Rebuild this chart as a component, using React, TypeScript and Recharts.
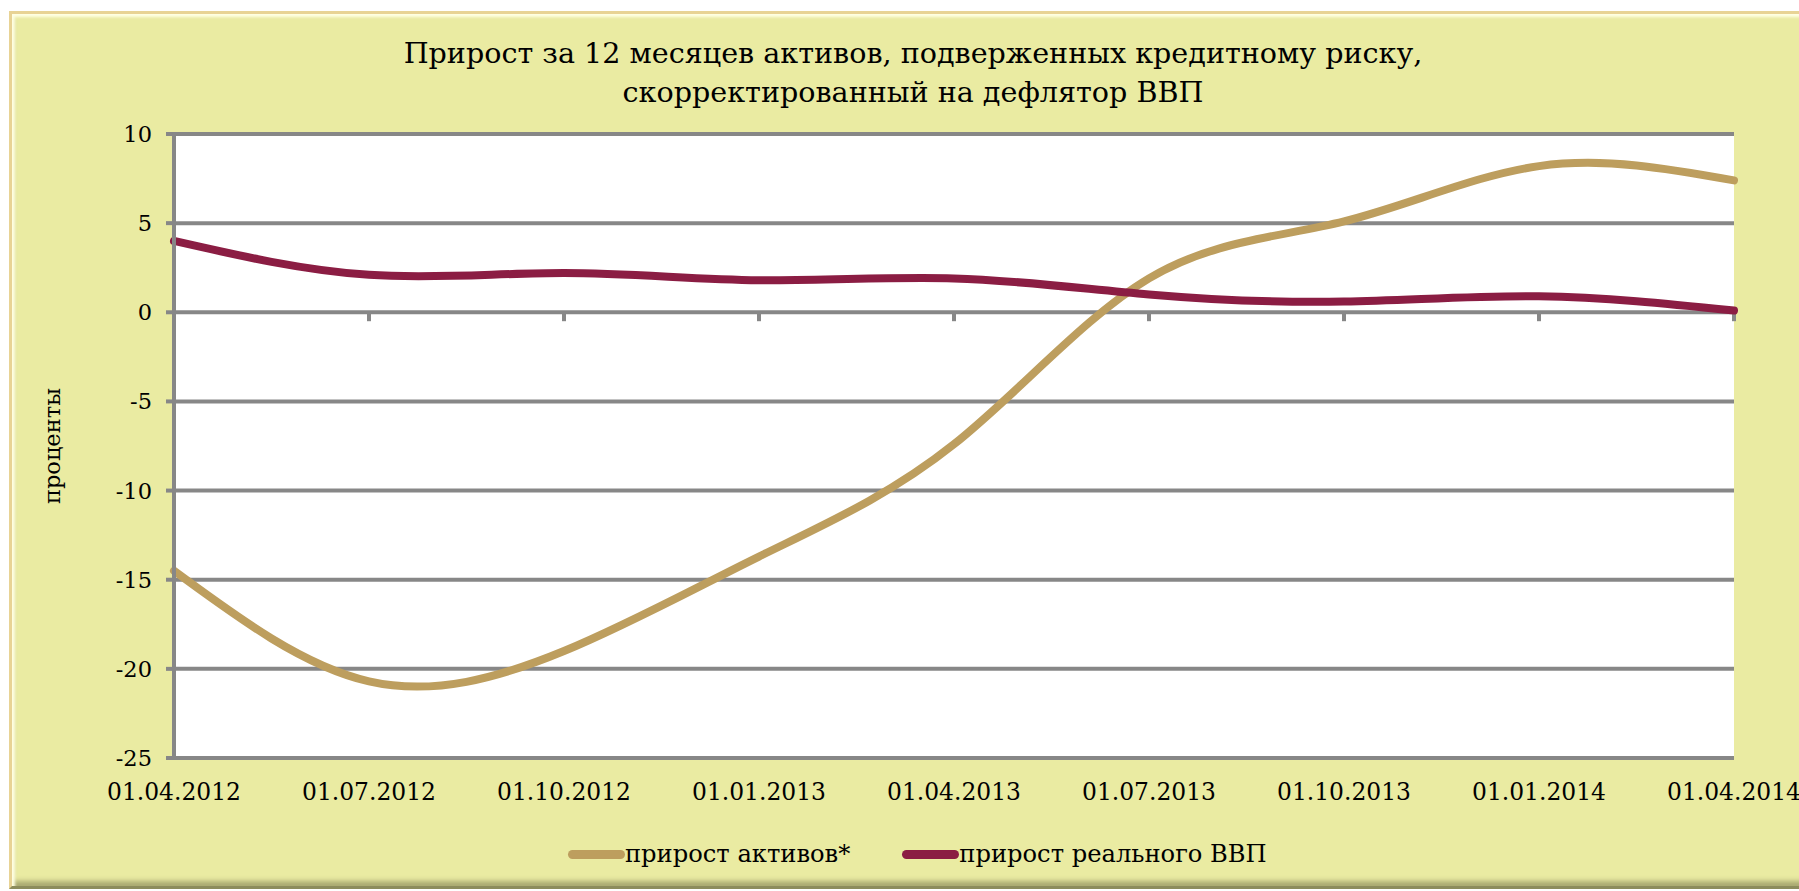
import { LineChart, Line, XAxis, YAxis, CartesianGrid, ReferenceLine } from 'recharts';

// quarterly points
const dates = [
  '01.04.2012', '01.07.2012', '01.10.2012', '01.01.2013', '01.04.2013',
  '01.07.2013', '01.10.2013', '01.01.2014', '01.04.2014',
];
const assetsGrowth = [-14.5, -20.7, -19.0, -13.7, -7.4, 1.9, 5.1, 8.2, 7.4];
const realGdpGrowth = [4.0, 2.1, 2.2, 1.8, 1.9, 1.0, 0.6, 0.9, 0.1];
const yTicks = [-25, -20, -15, -10, -5, 0, 5, 10];

const seriesNames = ['прирост активов*', 'прирост реального ВВП'];
const seriesColors = ['#BD9E5E', '#8B1D43'];

const titleLines = [
  'Прирост за 12 месяцев активов, подверженных кредитному риску,',
  'скорректированный на дефлятор ВВП',
];

const FONT = '"DejaVu Serif", serif';
const GRID = '#878787';

export default function App() {
  const data = dates.map((d, i) => ({
    date: d,
    assets: assetsGrowth[i],
    gdp: realGdpGrowth[i],
  }));

  return (
    <div style={{ position: 'absolute', left: 0, top: 0, width: 1799, height: 891, overflow: 'hidden' }}>
      <style>{'html,body{margin:0;overflow:hidden}'}</style>

      {/* bevelled frame */}
      <div
        style={{
          position: 'absolute',
          left: 9,
          top: 11,
          width: 1830,
          height: 872,
          background: '#EAEBA2',
          borderTop: '3px solid #E8D395',
          borderLeft: '3px solid #E8D395',
          borderBottom: '3px solid #8C8C5C',
          boxShadow: 'inset 3px 3px 3px #FFFFE4, inset 0 -5px 5px #A9A971',
        }}
      />

      <div
        style={{
          position: 'absolute',
          left: 9,
          top: 34,
          width: 1808,
          textAlign: 'center',
          fontFamily: FONT,
          fontSize: 28.6,
          lineHeight: '39px',
          color: '#000',
        }}
      >
        {titleLines.map((t) => (
          <div key={t}>{t}</div>
        ))}
      </div>

      <div style={{ position: 'absolute', left: 0, top: 0 }}>
        <LineChart
          width={1799}
          height={891}
          data={data}
          margin={{ top: 134, right: 65, bottom: 73, left: 54 }}
        >
          <CartesianGrid vertical={false} stroke={GRID} strokeWidth={4} fill="#FFFFFF" />
          <XAxis
            dataKey="date"
            height={60}
            axisLine={false}
            tickLine={false}
            tickSize={0}
            tickMargin={25}
            interval={0}
            tick={{ fill: '#000', fontFamily: FONT, fontSize: 23.4 }}
          />
          <YAxis
            width={120}
            domain={[-25, 10]}
            ticks={yTicks}
            interval={0}
            axisLine={{ stroke: GRID, strokeWidth: 4 }}
            tickLine={{ stroke: GRID, strokeWidth: 4 }}
            tickSize={8}
            tickMargin={14}
            tick={{ fill: '#000', fontFamily: FONT, fontSize: 22.5 }}
            label={{
              value: 'проценты',
              angle: -90,
              position: 'insideLeft',
              offset: -2,
              style: { textAnchor: 'middle', fontFamily: FONT, fontSize: 22.5, fill: '#000' },
            }}
          />
          {/* small tick marks hanging under the zero line, as in the original */}
          {dates.map((d) => (
            <ReferenceLine
              key={d}
              segment={[{ x: d, y: 0 }, { x: d, y: -0.5 }]}
              stroke={GRID}
              strokeWidth={4}
            />
          ))}
          <Line
            type="natural"
            dataKey="assets"
            name={seriesNames[0]}
            stroke={seriesColors[0]}
            strokeWidth={8}
            strokeLinecap="round"
            dot={false}
            activeDot={false}
            isAnimationActive={false}
          />
          <Line
            type="natural"
            dataKey="gdp"
            name={seriesNames[1]}
            stroke={seriesColors[1]}
            strokeWidth={8}
            strokeLinecap="round"
            dot={false}
            activeDot={false}
            isAnimationActive={false}
          />
        </LineChart>
      </div>

      {/* legend */}
      <div
        style={{
          position: 'absolute',
          left: 568,
          top: 840,
          display: 'flex',
          alignItems: 'center',
          fontFamily: FONT,
          fontSize: 24.2,
          color: '#000',
        }}
      >
        {seriesNames.map((n, i) => (
          <div key={n} style={{ display: 'flex', alignItems: 'center', marginRight: i === 0 ? 52 : 0 }}>
            <span
              style={{
                display: 'inline-block',
                width: 57,
                height: 9,
                borderRadius: 5,
                background: seriesColors[i],
              }}
            />
            <span>{n}</span>
          </div>
        ))}
      </div>
    </div>
  );
}
